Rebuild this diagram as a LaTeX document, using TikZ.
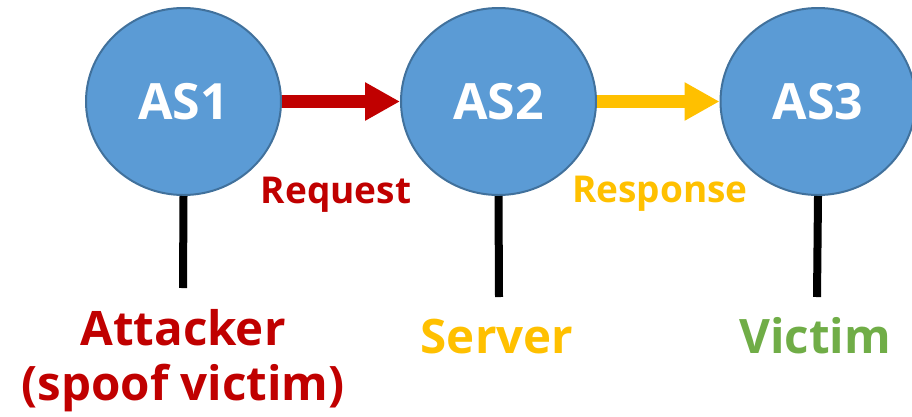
\documentclass[tikz,border=0pt]{standalone}
\usepackage{fontspec}
\setmainfont{Open Sans}
\usetikzlibrary{shapes.geometric,arrows.meta}
\definecolor{asfill}{HTML}{5B9BD5}
\definecolor{asedge}{HTML}{41719C}
\definecolor{reqred}{HTML}{C00000}
\definecolor{respyellow}{HTML}{FFC000}
\definecolor{victimgreen}{HTML}{70AD47}
\begin{document}
\begin{tikzpicture}[x=1pt,y=-1pt,
  asnode/.style={ellipse,draw=asedge,fill=asfill,line width=2pt,
    minimum width=195pt,minimum height=187pt,inner sep=0pt,
    text=white,font=\fontsize{50}{60}\selectfont\bfseries},
  flow/.style={line width=13pt,-{Triangle[length=35pt,width=36pt]}},
  stem/.style={line width=8pt,black},
  flowlabel/.style={anchor=base,font=\fontsize{37}{44}\selectfont\bfseries},
  rolelabel/.style={anchor=base,align=center,
    font=\fontsize{47.5}{55}\selectfont\bfseries}]
\useasboundingbox (0,0) rectangle (912,416);
% autonomous systems
\node[asnode] (as1) at (183.5,101.5) {AS1};
\node[asnode] (as2) at (498.5,101.5) {AS2};
\node[asnode] (as3) at (818,101.5) {AS3};
% request and response flows
\draw[flow,reqred] (as1) -- (as2);
\draw[flow,respyellow] (as2) -- (as3);
\node[flowlabel,text=reqred] (req) at (336,203) {Request};
\node[flowlabel,text=respyellow] (resp) at (660,202) {Response};
% hosts attached to each AS
\coordinate (h1) at (183,288);
\coordinate (h2) at (499,297);
\coordinate (h3) at (817,297);
\draw[stem] (as1.south) -- (h1);
\draw[stem] (as2.south) -- (h2);
\draw[stem] (as3.south) -- (h3);
% the base anchor of a two-line node sits on its last line
\node[rolelabel,text=reqred] (att) at (183,400) {Attacker\\(spoof victim)};
\node[rolelabel,text=respyellow] (srv) at (497,353) {Server};
\node[rolelabel,text=victimgreen] (vic) at (815,353) {Victim};
\end{tikzpicture}
\end{document}
